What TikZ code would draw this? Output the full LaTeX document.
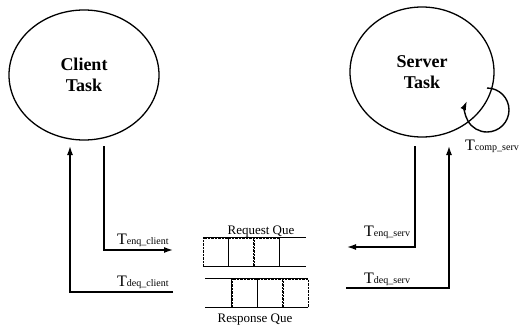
\documentclass[tikz,border=0pt]{standalone}
\usepackage{fontspec}
\setmainfont{Liberation Serif}
\usetikzlibrary{shapes.geometric,positioning,arrows.meta}

\tikzset{
  task/.style = {draw, line width=1.3pt, shape = ellipse, minimum width = 150pt, minimum height = 130pt, align = center, font = \fontsize{18}{21}\selectfont\bfseries},
  slot/.style = {draw, densely dotted, minimum width = 25pt, minimum height = 28pt, inner sep = 0pt},
  queline/.style = {line width=1pt},
  flow/.style = {line width=1.4pt, -{Latex[length=9pt,width=6pt]}},
  tlabel/.style = {anchor = base west, inner sep = 0pt, font = \fontsize{16}{16}\selectfont},
  qlabel/.style = {anchor = base, inner sep = 0pt, font = \fontsize{13}{13}\selectfont}
}
\newcommand{\tname}[1]{T{\fontsize{10}{10}\selectfont #1}}

\begin{document}
\begin{tikzpicture}[x=1pt, y=-1pt]
\useasboundingbox (0,0) rectangle (524,327);

% the two tasks
\node[task] (client) at (84,75) {Client\\Task};
\node[task, minimum width = 144pt] (server) at (422,72) {Server\\Task};

% request queue
\node[slot] (rq1) at (215.5,252) {};
\node[slot, right = 0pt of rq1] (rq2) {};
\node[slot, right = 0pt of rq2] (rq3) {};
\draw[queline] (rq1.north west) -- ++(103,0);
\draw[queline] (rq1.south west) -- ++(103,0);
\draw[queline] (rq3.north east) -- (rq3.south east);
\node[qlabel] (rql) at (261,234) {Request Que};

% response queue
\node[slot] (rs1) at (244.5,293) {};
\node[slot, right = 0pt of rs1] (rs2) {};
\node[slot, right = 0pt of rs2] (rs3) {};
\draw[queline] (rs3.north east) -- ++(-103,0);
\draw[queline] (rs3.south east) -- ++(-103,0);
\draw[queline] (rs1.north west) -- (rs1.south west);
\node[qlabel] (rsl) at (255,322) {Response Que};

% client side
\coordinate (cup) at (70,146);
\coordinate (cdown) at (104,146);
\coordinate (cenq) at (173,250);
\coordinate (cdeq) at (173,292);
\draw[flow] (cdown) |- (cenq);
\draw[flow] (cdeq) -| (cup);
\node[tlabel] (tec) at (117,244) {\tname{enq\_client}};
\node[tlabel] (tdc) at (117,286) {\tname{deq\_client}};

% server side
\coordinate (sdown) at (415,146);
\coordinate (sup) at (449,146);
\coordinate (senq) at (347,247);
\coordinate (sdeq) at (346,288);
\draw[flow] (sdown) |- (senq);
\draw[flow] (sdeq) -| (sup);
\node[tlabel] (tes) at (364,236) {\tname{enq\_serv}};
\node[tlabel] (tds) at (364,283) {\tname{deq\_serv}};

% compute loop
\coordinate (loop) at (487,88);
\draw[flow] (loop) arc[start angle = -90, end angle = 204, radius = 22];
\node[tlabel] (tcs) at (465,150) {\tname{comp\_serv}};
\end{tikzpicture}
\end{document}
